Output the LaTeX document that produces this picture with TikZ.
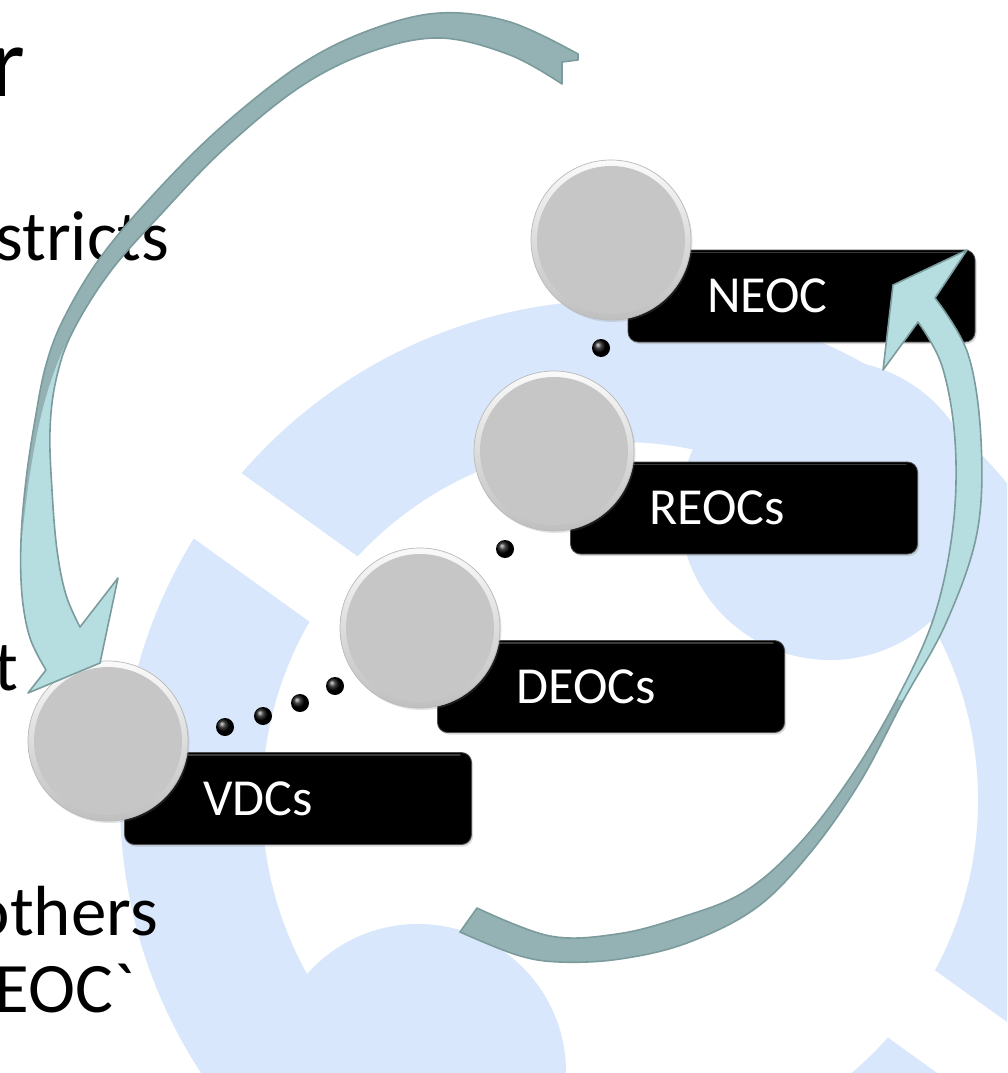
\documentclass[tikz,border=0pt]{standalone}
\usepackage{fontspec}
\setmainfont{Carlito}
\usetikzlibrary{shadows}
\definecolor{wmblue}{RGB}{216,231,251}
\definecolor{arrdark}{RGB}{148,178,179}
\definecolor{arredge}{RGB}{124,155,157}
\definecolor{arrlight}{RGB}{182,222,224}
\definecolor{orbface}{RGB}{198,198,198}
\newcommand{\arrowApath}{%
  plot[smooth, tension=0.6] coordinates {(578,54) (510,22) (440,13) (370,30) (300,65) (220,128) (153,195) (100,258) (64,318) (46,365) (35,420) (26,480) (21,540) (22,595) (30,638) (46,670)}
  -- (28,693) -- (100,663) -- (118,578) -- (80,627)
  -- plot[smooth, tension=0.6] coordinates {(80,627) (66,595) (57,550) (52,490) (50,430) (56,380) (72,333) (110,272) (163,212) (225,148) (300,87) (370,52) (440,38) (510,55) (562,84)}
  -- (562,62) -- (578,60) -- cycle}
\newcommand{\arrowAdark}{%
  plot[smooth, tension=0.6] coordinates {(578,54) (510,22) (440,13) (370,30) (300,65) (220,128) (153,195) (100,258) (64,318) (46,365) (35,420) (26,480) (21,545)}
  -- plot[smooth, tension=0.6] coordinates {(21,545) (29,480) (40,420) (54,372) (72,333) (110,272) (163,212) (225,148) (300,87) (370,52) (440,38) (510,55) (562,84)}
  -- (562,62) -- (578,60) -- cycle}
\newcommand{\arrowBpath}{%
  (477,908) -- (460,932)
  -- plot[smooth, tension=0.6] coordinates {(460,932) (517,955) (560,962) (620,959) (687,943) (756,908) (810,853) (860,782) (903,701) (946,623) (977,533) (981,440) (968,354) (935,298)}
  -- (967,250) -- (893,285) -- (883,370) -- (918,322)
  -- plot[smooth, tension=0.6] coordinates {(918,322) (942,366) (955,440) (953,527) (934,617) (897,699) (852,775) (800,843) (744,892) (679,918) (617,934) (550,936) (477,908)} -- cycle}
\newcommand{\arrowBdark}{%
  (477,908) -- (460,932)
  -- plot[smooth, tension=0.6] coordinates {(460,932) (517,955) (560,962) (620,959) (687,943) (756,908) (810,853) (860,782) (903,701)}
  -- plot[smooth, tension=0.6] coordinates {(897,699) (852,775) (800,843) (744,892) (679,918) (617,934) (550,936) (477,908)} -- cycle}
\begin{document}
\begin{tikzpicture}[x=1pt,y=-1pt,
  wmfill/.style={fill=wmblue},
  lefttxt/.style={inner sep=0pt, anchor=base east, font=\fontsize{71}{71}\selectfont, text=black},
  boxnode/.style={rectangle, rounded corners=10pt, fill=black, draw=black!70, line width=0.8pt,
    text=white, font=\fontsize{52}{52}\selectfont, minimum height=92pt, text width=189pt,
    inner xsep=79pt, inner ysep=0pt, align=left,
    drop shadow={shadow xshift=1.5pt, shadow yshift=-2pt, opacity=0.3}},
  orbnode/.style={circle, inner sep=0pt, minimum size=160pt, draw=gray!55, line width=0.7pt,
    top color=gray!4, bottom color=gray!50,
    drop shadow={shadow xshift=1.5pt, shadow yshift=-2pt, opacity=0.22},
    path picture={\fill[orbface] (path picture bounding box.center) circle[radius=74pt];}},
  dotball/.style={circle, inner sep=0pt, minimum size=18pt, ball color=black},
  arrowfill/.style={fill=arrlight},
  arrowshade/.style={fill=arrdark},
  arrowline/.style={draw=arredge, line width=1.6pt, line join=round}]

\useasboundingbox (0,0) rectangle (1007,1073);
\fill[white] (0,0) rectangle (1007,1073);

\begin{scope}
\clip (0,0) rectangle (1007,1073);

% ---- watermark ----
\begin{scope}
  \clip (-100,228.2) -- (1200,1160.3) -- (1200,-100) -- (-100,-100) -- cycle;
  \fill[wmfill,even odd rule] (620,800) circle[radius=500pt] (620,800) circle[radius=358pt];
\end{scope}
\begin{scope}
  \clip (-100,327.3) -- (1200,1262) -- (1200,1400) -- (-100,1400) -- cycle;
  \fill[wmfill,even odd rule] (620,800) circle[radius=500pt] (620,800) circle[radius=358pt];
\end{scope}
\fill[wmfill] (830,510) circle[radius=150pt];
\fill[wmfill] (418,1072) circle[radius=148pt];

% ---- left text fragments ----
\node[lefttxt, font=\fontsize{100}{100}\selectfont] (tr) at (26,96) {r};
\node[lefttxt] (tstr) at (169,260) {stricts};
\node[lefttxt] (tt) at (18,690) {t};
\node[lefttxt] (toth) at (158,935) {others};
\node[lefttxt] (teoc) at (134,1012) {EOC\textasciigrave};

% ---- boxes ----
\node[boxnode] (bneoc) at (801.5,296) {NEOC};
\node[boxnode] (breoc) at (744,508) {REOCs};
\node[boxnode] (bdeoc) at (611,686.5) {DEOCs};
\node[boxnode] (bvdc) at (298,798.5) {VDCs};
\foreach \b in {bneoc,breoc,bdeoc,bvdc}{
  \draw[gray!45!black, line width=1.6pt, line cap=round]
    ([xshift=12pt,yshift=-3pt]\b.north west) -- ([xshift=-12pt,yshift=-3pt]\b.north east);
}

% ---- dots ----
\node[dotball] (d1) at (601,348) {};
\node[dotball] (d2) at (505,549) {};
\node[dotball] (d3) at (335,686) {};
\node[dotball] (d4) at (300,703) {};
\node[dotball] (d5) at (263,716) {};
\node[dotball] (d6) at (225,727) {};

% ---- orbs ----
\node[orbnode] (oneoc) at (611,240) {};
\node[orbnode] (oreoc) at (554,451) {};
\node[orbnode] (odeoc) at (420,628) {};
\node[orbnode] (ovdc) at (108,741) {};

% ---- left curved arrow ----
\fill[arrowfill] \arrowApath;
\fill[arrowshade] \arrowAdark;
\draw[arrowline] \arrowApath;

% ---- right curved arrow ----
\fill[arrowfill] \arrowBpath;
\fill[arrowshade] \arrowBdark;
\draw[arrowline] \arrowBpath;

\end{scope}
\end{tikzpicture}
\end{document}
